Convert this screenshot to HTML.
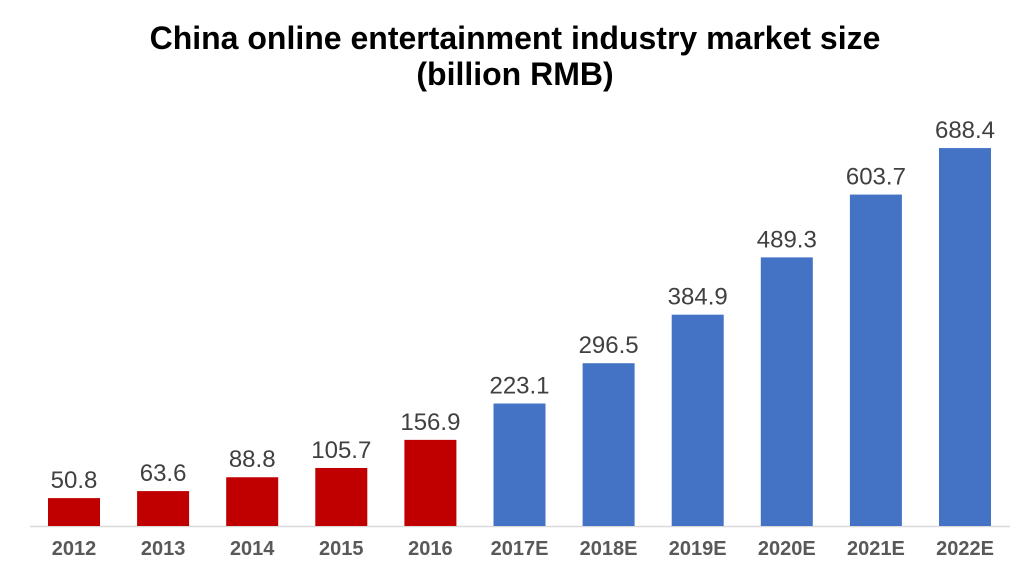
<!DOCTYPE html>
<html><head><meta charset="utf-8"><style>
body{margin:0;background:#fff;width:1024px;height:580px;overflow:hidden}
</style></head><body>
<svg width="1024" height="580" xmlns="http://www.w3.org/2000/svg" font-family="Liberation Sans, sans-serif">
<text x="515" y="49" text-anchor="middle" font-size="32" font-weight="bold" fill="#000">China online entertainment industry market size</text>
<text x="515" y="85" text-anchor="middle" font-size="32" font-weight="bold" fill="#000">(billion RMB)</text>
<line x1="30" y1="526.5" x2="1010" y2="526.5" stroke="#d9d9d9" stroke-width="1.5"/>
<g id="bars"></g>
</svg>
<script>
var d=[["2012",50.8],["2013",63.6],["2014",88.8],["2015",105.7],["2016",156.9],["2017E",223.1],["2018E",296.5],["2019E",384.9],["2020E",489.3],["2021E",603.7],["2022E",688.4]];
var g=document.getElementById("bars"),s="";
d.forEach(function(e,i){var cx=74+89.1*i,h=e[1]*0.549,top=526-h,c=i<5?"#c00000":"#4472c4";
s+='<rect x="'+(cx-26)+'" y="'+top+'" width="52" height="'+h+'" fill="'+c+'"/>';
s+='<text x="'+cx+'" y="'+(top-10)+'" text-anchor="middle" font-size="24" fill="#404040">'+e[1].toFixed(1)+'</text>';
s+='<text x="'+cx+'" y="555" text-anchor="middle" font-size="20" font-weight="bold" fill="#595959">'+e[0]+'</text>';});
g.innerHTML=s;
</script>
</body></html>
